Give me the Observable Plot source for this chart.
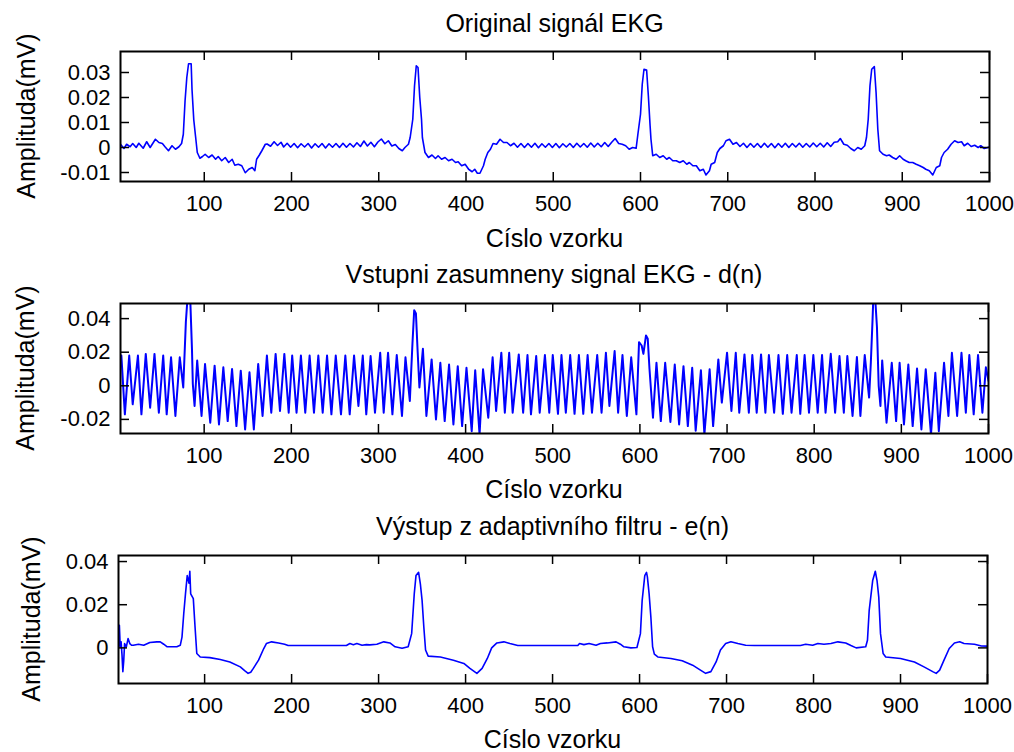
<!DOCTYPE html>
<html><head><meta charset="utf-8">
<script src="https://cdn.jsdelivr.net/npm/d3@7"></script>
<script src="https://cdn.jsdelivr.net/npm/@observablehq/plot@0.6"></script>
<style>
body{margin:0;background:#fff;}
#chart{position:relative;width:1014px;height:752px;background:#fff;font-family:"Liberation Sans",Arial,sans-serif;color:#000;overflow:hidden;}
.panel{position:absolute;left:0;}
.t{position:absolute;font-size:25px;line-height:25px;white-space:nowrap;text-align:center;}
.yl{position:absolute;font-size:25px;line-height:25px;white-space:nowrap;transform:translate(-50%,-50%) rotate(-90deg);}
</style></head><body><div id="chart"></div><script>
// ---- text ----
const titles = ["Original signál EKG", "Vstupni zasumneny signal EKG - d(n)", "Výstup z adaptivního filtru - e(n)"];
const xLabel = "Císlo vzorku";
const yLabel = "Amplituda(mV)";
// ---- ticks ----
const sampleTicks = [100,200,300,400,500,600,700,800,900,1000];
const yTicks1 = [-0.01,0,0.01,0.02,0.03];
const yTicks2 = [-0.02,0,0.02,0.04];
const yTicks3 = [0,0.02,0.04];
// ---- series: [sample, amplitude] ----
const ecgOriginal = [[4,0.0013],[8,-0.0004],[11,0.0013],[15,0.0003],[18,0.0016],[22,0.0],[25,0.0017],[30,-0.0003],[34,0.0023],[38,0.0],[44,0.0033],[48,0.002],[52,0.0016],[55,0.0003],[59,-0.0013],[63,0.0007],[67,-0.0007],[71,0.0003],[74,0.0016],[76,0.0053],[78,0.0187],[80,0.028],[82,0.0335],[85,0.0335],[86,0.023],[88,0.011],[90,0.0045],[92,-0.002],[95,-0.0043],[98,-0.0036],[101,-0.0027],[105,-0.004],[109,-0.003],[113,-0.0047],[116,-0.0036],[120,-0.0053],[124,-0.004],[128,-0.006],[132,-0.0047],[135,-0.0071],[139,-0.0067],[143,-0.0073],[147,-0.0101],[151,-0.0087],[155,-0.008],[158,-0.0093],[160,-0.0047],[163,-0.0031],[166,-0.0013],[170,0.0013],[172,0.0014],[176,0.0005],[180,0.0023],[184,0.0008],[188,0.0021],[191,0.0002],[195,0.0017],[199,0.0001],[203,0.0016],[207,-0.0001],[211,0.0015],[215,0.0002],[219,0.0016],[223,-0.0002],[227,0.0015],[231,0.0001],[235,0.0016],[239,-0.0002],[243,0.0015],[247,0.0001],[251,0.0016],[255,0.0],[259,0.0017],[263,0.0001],[267,0.0016],[271,0.0002],[275,0.0019],[279,0.0004],[283,0.0026],[287,0.0006],[291,0.0021],[295,0.0003],[299,0.0022],[303,0.0034],[307,0.0015],[311,0.0027],[315,0.0006],[319,0.0012],[323,-0.0004],[327,-0.0013],[330,0.0],[334,0.0013],[336,0.004],[339,0.0113],[341,0.0247],[343,0.0327],[345,0.032],[347,0.02],[349,0.0113],[350,0.004],[353,-0.002],[357,-0.004],[361,-0.003],[365,-0.0044],[368,-0.0033],[372,-0.0047],[376,-0.004],[380,-0.0053],[384,-0.0047],[388,-0.006],[391,-0.0057],[395,-0.0073],[399,-0.0067],[403,-0.0087],[407,-0.0097],[410,-0.0087],[413,-0.0103],[416,-0.0103],[420,-0.0073],[422,-0.0047],[425,-0.002],[428,-0.0007],[431,0.0016],[435,0.0013],[439,0.0033],[443,0.002],[447,0.002],[451,0.0007],[455,0.0017],[459,0.0001],[463,0.0016],[467,0.0],[471,0.0016],[475,0.0001],[479,0.0017],[483,-0.0001],[487,0.0015],[491,0.0001],[495,0.0016],[499,0.0],[503,0.0016],[507,-0.0001],[511,0.0015],[515,0.0002],[519,0.0016],[523,0.0],[527,0.0017],[531,0.0002],[535,0.0016],[539,0.0001],[543,0.0018],[547,0.0002],[551,0.0017],[555,0.0003],[559,0.002],[563,0.0004],[567,0.0021],[571,0.0036],[575,0.0016],[579,0.0013],[583,0.0007],[587,-0.0007],[591,0.0],[595,-0.0003],[597,0.0053],[600,0.0133],[602,0.0253],[604,0.0313],[607,0.031],[609,0.0207],[611,0.0087],[612,0.0033],[614,-0.0033],[618,-0.0027],[622,-0.004],[626,-0.0033],[630,-0.0047],[633,-0.004],[637,-0.0053],[641,-0.0053],[645,-0.006],[649,-0.0053],[653,-0.0067],[656,-0.006],[660,-0.0073],[664,-0.0073],[668,-0.0093],[672,-0.0087],[675,-0.011],[679,-0.0093],[681,-0.0067],[685,-0.006],[688,-0.002],[691,-0.0004],[695,0.0007],[698,0.0027],[702,0.0033],[706,0.0013],[710,0.002],[714,0.0004],[718,0.0017],[722,0.0],[726,0.0016],[730,0.0001],[734,0.0016],[738,0.0],[742,0.0017],[746,0.0001],[750,0.0016],[754,-0.0001],[758,0.0016],[762,0.0001],[766,0.0017],[770,0.0],[774,0.0016],[778,0.0002],[782,0.0017],[786,0.0001],[790,0.0016],[794,0.0002],[798,0.0018],[802,0.0003],[806,0.0017],[810,0.0002],[814,0.0019],[818,0.0004],[822,0.0021],[826,0.0023],[829,0.0036],[833,0.0013],[837,0.0009],[841,-0.0004],[845,-0.0013],[849,0.0],[853,-0.0007],[857,0.0007],[859,0.004],[861,0.0113],[863,0.0247],[865,0.0313],[868,0.0324],[870,0.022],[872,0.0073],[874,-0.0013],[878,-0.0027],[882,-0.0033],[885,-0.003],[889,-0.004],[893,-0.0047],[897,-0.0033],[901,-0.0047],[904,-0.0053],[908,-0.006],[912,-0.006],[916,-0.0067],[920,-0.0073],[924,-0.008],[927,-0.0087],[931,-0.0093],[935,-0.011],[939,-0.008],[943,-0.0073],[945,-0.004],[948,-0.002],[952,-0.0007],[956,0.0013],[960,0.0027],[964,0.002],[968,0.0023],[971,0.0007],[975,0.0017],[979,0.0004],[983,0.0009],[987,0.0],[990,0.0007],[994,-0.0004],[1000,0.0002]];

const ecgNoisy = [[4,0.012],[5,0.018],[9,-0.017],[14,0.018],[18,-0.011],[24,0.018],[28,-0.017],[33,0.019],[38,-0.013],[43,0.019],[48,-0.016],[53,0.018],[57,-0.017],[62,0.017],[67,-0.018],[72,0.017],[76,-0.001],[79,0.038],[81,0.053],[84,0.052],[86,0.022],[87,0.001],[89,-0.012],[92,0.015],[97,-0.018],[101,0.013],[107,-0.022],[112,0.012],[117,-0.023],[122,0.011],[127,-0.021],[132,0.010],[137,-0.024],[142,0.009],[147,-0.026],[152,0.008],[157,-0.026],[162,0.013],[167,-0.018],[172,0.018],[177,-0.016],[182,0.019],[187,-0.015],[192,0.019],[197,-0.016],[201,0.018],[206,-0.016],[211,0.018],[216,-0.016],[221,0.018],[226,-0.016],[231,0.018],[236,-0.016],[241,0.018],[246,-0.017],[251,0.018],[257,-0.017],[262,0.018],[267,-0.017],[272,0.018],[277,-0.012],[282,0.018],[286,-0.017],[291,0.0177],[296,-0.016],[302,0.0197],[306,-0.016],[311,0.0197],[316,-0.017],[321,0.0183],[327,-0.018],[331,0.017],[336,-0.009],[339,0.025],[341,0.045],[343,0.043],[345,0.020],[347,-0.001],[351,0.022],[355,-0.018],[361,0.0157],[366,-0.020],[371,0.0137],[376,-0.021],[381,0.0127],[386,-0.023],[391,0.0117],[396,-0.024],[401,0.0107],[407,-0.027],[411,0.0092],[416,-0.029],[420,0.0098],[426,-0.019],[431,0.017],[435,-0.015],[441,0.0197],[445,-0.016],[450,0.0197],[454,-0.016],[461,0.0187],[466,-0.016],[471,0.0183],[475,-0.017],[481,0.0177],[485,-0.016],[491,0.0183],[496,-0.016],[500,0.0183],[506,-0.0167],[510,0.0183],[515,-0.016],[520,0.0183],[525,-0.0167],[530,0.0183],[535,-0.0167],[540,0.0183],[545,-0.016],[551,0.0183],[556,-0.016],[561,0.0197],[565,-0.012],[571,0.0207],[575,-0.016],[580,0.0183],[585,-0.018],[590,0.017],[596,-0.017],[599,0.026],[602,0.024],[604,0.019],[607,0.030],[609,0.028],[611,0.010],[615,-0.019],[619,0.0137],[624,-0.021],[629,0.0137],[635,-0.0215],[640,0.0127],[645,-0.023],[650,0.0117],[655,-0.024],[660,0.0107],[664,-0.0267],[670,0.0092],[674,-0.029],[680,0.0098],[684,-0.024],[690,0.0157],[694,-0.010],[700,0.0197],[705,-0.015],[710,0.0197],[714,-0.016],[720,0.0187],[725,-0.016],[729,0.0183],[734,-0.016],[739,0.0187],[744,-0.016],[748,0.0183],[754,-0.016],[759,0.0183],[764,-0.0167],[769,0.0183],[774,-0.016],[780,0.0183],[784,-0.0167],[789,0.0183],[794,-0.016],[799,0.0183],[804,-0.016],[809,0.0183],[813,-0.016],[819,0.0191],[824,-0.016],[829,0.0177],[834,-0.016],[838,0.0177],[844,-0.018],[849,0.0171],[853,-0.018],[858,0.0183],[863,-0.007],[865,0.014],[867,0.040],[868,0.055],[870,0.052],[872,0.035],[874,0.0],[876,-0.012],[878,0.0151],[883,-0.022],[889,0.0137],[894,-0.021],[898,0.0137],[903,-0.023],[908,0.0127],[913,-0.024],[918,0.0103],[923,-0.026],[928,0.0098],[934,-0.029],[939,0.0078],[943,-0.027],[949,0.0137],[954,-0.018],[958,0.0197],[964,-0.018],[969,0.0197],[974,-0.016],[978,0.0183],[983,-0.017],[988,0.0183],[993,-0.016],[997,0.011],[1000,0.003]];

const ecgFiltered = [[1,0.0],[2,0.0105],[3,0.0005],[4,0.0028],[5,-0.003],[6,-0.011],[7,-0.006],[8,0.002],[10,0.0005],[12,0.0043],[14,0.002],[16,0.0012],[18,0.0012],[24,0.0017],[30,0.0012],[37,0.0025],[45,0.0028],[49,0.0028],[53,0.0017],[57,0.0005],[68,0.0005],[72,0.0012],[74,0.005],[76,0.0158],[78,0.025],[80,0.0335],[82,0.03],[83,0.0355],[84,0.025],[87,0.0228],[89,0.0097],[91,-0.0026],[95,-0.0042],[106,-0.0045],[118,-0.0054],[129,-0.0065],[141,-0.0088],[146,-0.0105],[150,-0.0118],[153,-0.0113],[156,-0.0095],[162,-0.0057],[168,-0.0003],[171,0.002],[177,0.0028],[185,0.0023],[192,0.0017],[196,0.0011],[210,0.0011],[248,0.0011],[263,0.0011],[267,0.002],[271,0.0015],[275,0.002],[281,0.0012],[286,0.0015],[290,0.0014],[298,0.0017],[306,0.0028],[313,0.0023],[319,0.0005],[327,-0.0002],[334,0.0005],[338,0.0066],[341,0.025],[343,0.0335],[346,0.035],[348,0.0297],[350,0.022],[352,0.0097],[354,-0.001],[357,-0.0038],[371,-0.0042],[386,-0.0057],[398,-0.0072],[405,-0.0095],[413,-0.0118],[419,-0.0095],[425,-0.0049],[430,0.0],[436,0.0023],[444,0.0028],[451,0.002],[460,0.0011],[529,0.0011],[531,0.002],[536,0.0015],[542,0.002],[550,0.0012],[555,0.002],[563,0.0023],[573,0.0028],[578,0.0017],[582,0.0005],[590,0.0],[597,0.0002],[601,0.0066],[603,0.022],[606,0.0335],[608,0.035],[609,0.0329],[611,0.025],[613,0.0143],[615,0.0005],[617,-0.0029],[621,-0.0042],[636,-0.0049],[649,-0.006],[661,-0.008],[670,-0.0103],[676,-0.0118],[682,-0.011],[688,-0.0065],[693,-0.001],[699,0.002],[705,0.0028],[713,0.002],[722,0.0012],[732,0.0011],[785,0.0011],[791,0.0017],[799,0.0012],[805,0.002],[812,0.0017],[820,0.002],[828,0.0028],[837,0.0023],[843,0.0011],[849,0.0],[860,0.0005],[862,0.0035],[864,0.0174],[868,0.0312],[871,0.0355],[873,0.0312],[875,0.0235],[877,0.0066],[880,-0.0026],[883,-0.0042],[900,-0.0049],[916,-0.0065],[927,-0.0088],[937,-0.011],[941,-0.0118],[945,-0.0103],[950,-0.0057],[956,-0.0003],[962,0.0023],[968,0.0028],[973,0.002],[985,0.0017],[993,0.0009],[1000,0.0008]];

// ---- axis domains ----
const xDomains = [[4,1000],[4,1000],[1,1000]];
const yDomains = [[-0.0136,0.0384],[-0.0284,0.049],[-0.0165,0.0428]];

// ---- layout (pixels) ----
const layout = [
  {top:0,   height:221, mt:51, mb:40, ml:120, mr:25, ylX:25.5, titleBase:31.7, xlabBase:247, sw:1.6},
  {top:252, height:221, mt:51, mb:40, ml:120, mr:26, ylX:25,   titleBase:283,  xlabBase:498, sw:2},
  {top:504, height:219, mt:51, mb:40, ml:118, mr:27, ylX:31,   titleBase:535,  xlabBase:748, sw:1.6}
];
const W = 1014;
const series = [ecgOriginal, ecgNoisy, ecgFiltered];
const yTickSets = [yTicks1, yTicks2, yTicks3];
const fmt = d => d === 0 ? "0" : String(d);
const chart = document.getElementById("chart");

series.forEach((data, i) => {
  const L = layout[i];
  const fw = W - L.ml - L.mr;
  const fh = L.height - L.mt - L.mb;
  const svg = Plot.plot({
    width: W, height: L.height,
    marginLeft: L.ml, marginRight: L.mr, marginTop: L.mt, marginBottom: L.mb,
    style: {fontFamily: '"Liberation Sans", Arial, sans-serif', fontSize: "22px", background: "transparent", overflow: "visible", color: "#000"},
    x: {domain: xDomains[i], ticks: sampleTicks, tickSize: 0, tickPadding: 14, tickFormat: d => String(d), label: null},
    y: {domain: yDomains[i], ticks: yTickSets[i], tickSize: 0, tickPadding: 10, tickFormat: fmt, label: null},
    marks: [
      Plot.line(data, {x: d => d[0], y: d => d[1], stroke: "#0000ff", strokeWidth: L.sw, clip: true}),
      Plot.tickX(sampleTicks, {x: d => d, insetTop: fh - 9, stroke: "#000", strokeWidth: 1.5}),
      Plot.tickX(sampleTicks, {x: d => d, insetBottom: fh - 9, stroke: "#000", strokeWidth: 1.5}),
      Plot.tickY(yTickSets[i], {y: d => d, insetRight: fw - 9, stroke: "#000", strokeWidth: 1.5}),
      Plot.tickY(yTickSets[i], {y: d => d, insetLeft: fw - 9, stroke: "#000", strokeWidth: 1.5}),
      Plot.frame({stroke: "#000", strokeWidth: 2})
    ]
  });
  const wrap = document.createElement("div");
  wrap.className = "panel";
  wrap.style.top = L.top + "px";
  wrap.appendChild(svg);
  chart.appendChild(wrap);

  const t = document.createElement("div");
  t.className = "t";
  t.textContent = titles[i];
  t.style.left = L.ml + "px"; t.style.width = fw + "px";
  t.style.top = (L.titleBase - 21.2) + "px";
  chart.appendChild(t);

  const xl = document.createElement("div");
  xl.className = "t";
  xl.textContent = xLabel;
  xl.style.left = L.ml + "px"; xl.style.width = fw + "px";
  xl.style.top = (L.xlabBase - 21.2) + "px";
  chart.appendChild(xl);

  const yl = document.createElement("div");
  yl.className = "yl";
  yl.textContent = yLabel;
  yl.style.left = L.ylX + "px";
  yl.style.top = (L.top + L.mt + fh / 2) + "px";
  chart.appendChild(yl);
});
</script></body></html>
